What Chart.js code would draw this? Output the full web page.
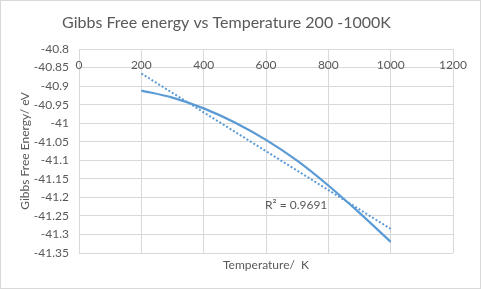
<!DOCTYPE html>
<html>
<head>
<meta charset="utf-8">
<script src="https://cdn.jsdelivr.net/npm/chart.js@4.4.1/dist/chart.umd.min.js"></script>
<style>
  html, body { margin: 0; padding: 0; background: #fff; }
  canvas { display: block; }
</style>
</head>
<body>
<canvas id="chart" width="481" height="289"></canvas>
<script>
// data
const temperatures = [200, 300, 400, 500, 600, 700, 800, 900, 1000];
const gibbsEnergy = [-40.912, -40.931, -40.960, -40.998, -41.045, -41.101, -41.168, -41.242, -41.320];
const trendTemps = [200, 1000];
const trendEnergy = [-40.866, -41.285];
const xTicks = [0, 200, 400, 600, 800, 1000, 1200];
const yTicks = [-40.8, -40.85, -40.9, -40.95, -41, -41.05, -41.1, -41.15, -41.2, -41.25, -41.3, -41.35];
const rSquaredText = 'R² = 0.9691';

const BLUE = '#5B9BD5', TEXT = '#595959', GRID = '#d9d9d9';
const FONT = 'Lato';

const toPoints = (xs, ys) => xs.map((x, i) => ({ x, y: ys[i] }));

// x labels sit inside the plot under the top edge, plus the R² note and the frame
const extras = {
    id: 'extras',
    afterDatasetsDraw(chart) {
        const { ctx, scales: { x, y } } = chart;
        ctx.save();
        ctx.fillStyle = TEXT;
        ctx.font = `12px ${FONT}`;
        ctx.textAlign = 'center';
        ctx.textBaseline = 'middle';
        xTicks.forEach(v => ctx.fillText(String(v), x.getPixelForValue(v), y.top + 16));
        ctx.textAlign = 'left';
        ctx.fillText(rSquaredText, x.getPixelForValue(597), y.getPixelForValue(-41.22));
        ctx.restore();
    },
    afterDraw(chart) {
        const ctx = chart.ctx;
        ctx.save();
        ctx.strokeStyle = GRID;
        ctx.lineWidth = 1;
        ctx.strokeRect(0.5, 0.5, chart.width - 1, chart.height - 1);
        ctx.restore();
    }
};

new Chart(document.getElementById('chart'), {
    type: 'scatter',
    data: {
        datasets: [
            {
                data: toPoints(temperatures, gibbsEnergy),
                showLine: true,
                borderColor: BLUE,
                borderWidth: 2.25,
                pointRadius: 0,
                cubicInterpolationMode: 'monotone'
            },
            {
                data: toPoints(trendTemps, trendEnergy),
                showLine: true,
                borderColor: BLUE,
                borderWidth: 2,
                borderDash: [2, 2],
                pointRadius: 0
            }
        ]
    },
    options: {
        responsive: false,
        animation: false,
        layout: { padding: { left: 0, right: 28, top: 0, bottom: 0 } },
        plugins: {
            legend: { display: false },
            tooltip: { enabled: false },
            title: {
                display: true,
                text: 'Gibbs Free energy vs Temperature 200 -1000K',
                color: TEXT,
                font: { family: FONT, size: 16, weight: 'normal', lineHeight: 1.35 },
                padding: { top: 12.2, bottom: 15.2 }
            }
        },
        scales: {
            x: {
                type: 'linear',
                position: 'bottom',
                min: 0,
                max: 1200,
                afterBuildTicks: s => { s.ticks = xTicks.map(v => ({ value: v })); },
                afterFit: s => { s.height = 36; },
                ticks: { display: false },
                grid: { color: GRID, drawTicks: false },
                border: { display: false },
                title: {
                    display: true,
                    text: 'Temperature/  K',
                    color: TEXT,
                    font: { family: FONT, size: 12 },
                    padding: { top: 0, bottom: 16.8 }
                }
            },
            y: {
                min: -41.35,
                max: -40.8,
                afterBuildTicks: s => { s.ticks = yTicks.map(v => ({ value: v })); },
                afterFit: s => { s.width = 79; },
                ticks: {
                    color: TEXT,
                    font: { family: FONT, size: 12 },
                    padding: 10,
                    callback: v => String(+v.toFixed(2))
                },
                grid: { color: GRID, drawTicks: false },
                border: { color: GRID },
                title: {
                    display: true,
                    text: 'Gibbs Free Energy/ eV',
                    color: TEXT,
                    font: { family: FONT, size: 12 },
                    padding: { top: 17.8, bottom: 0 }
                }
            }
        }
    },
    plugins: [extras]
});
</script>
</body>
</html>
